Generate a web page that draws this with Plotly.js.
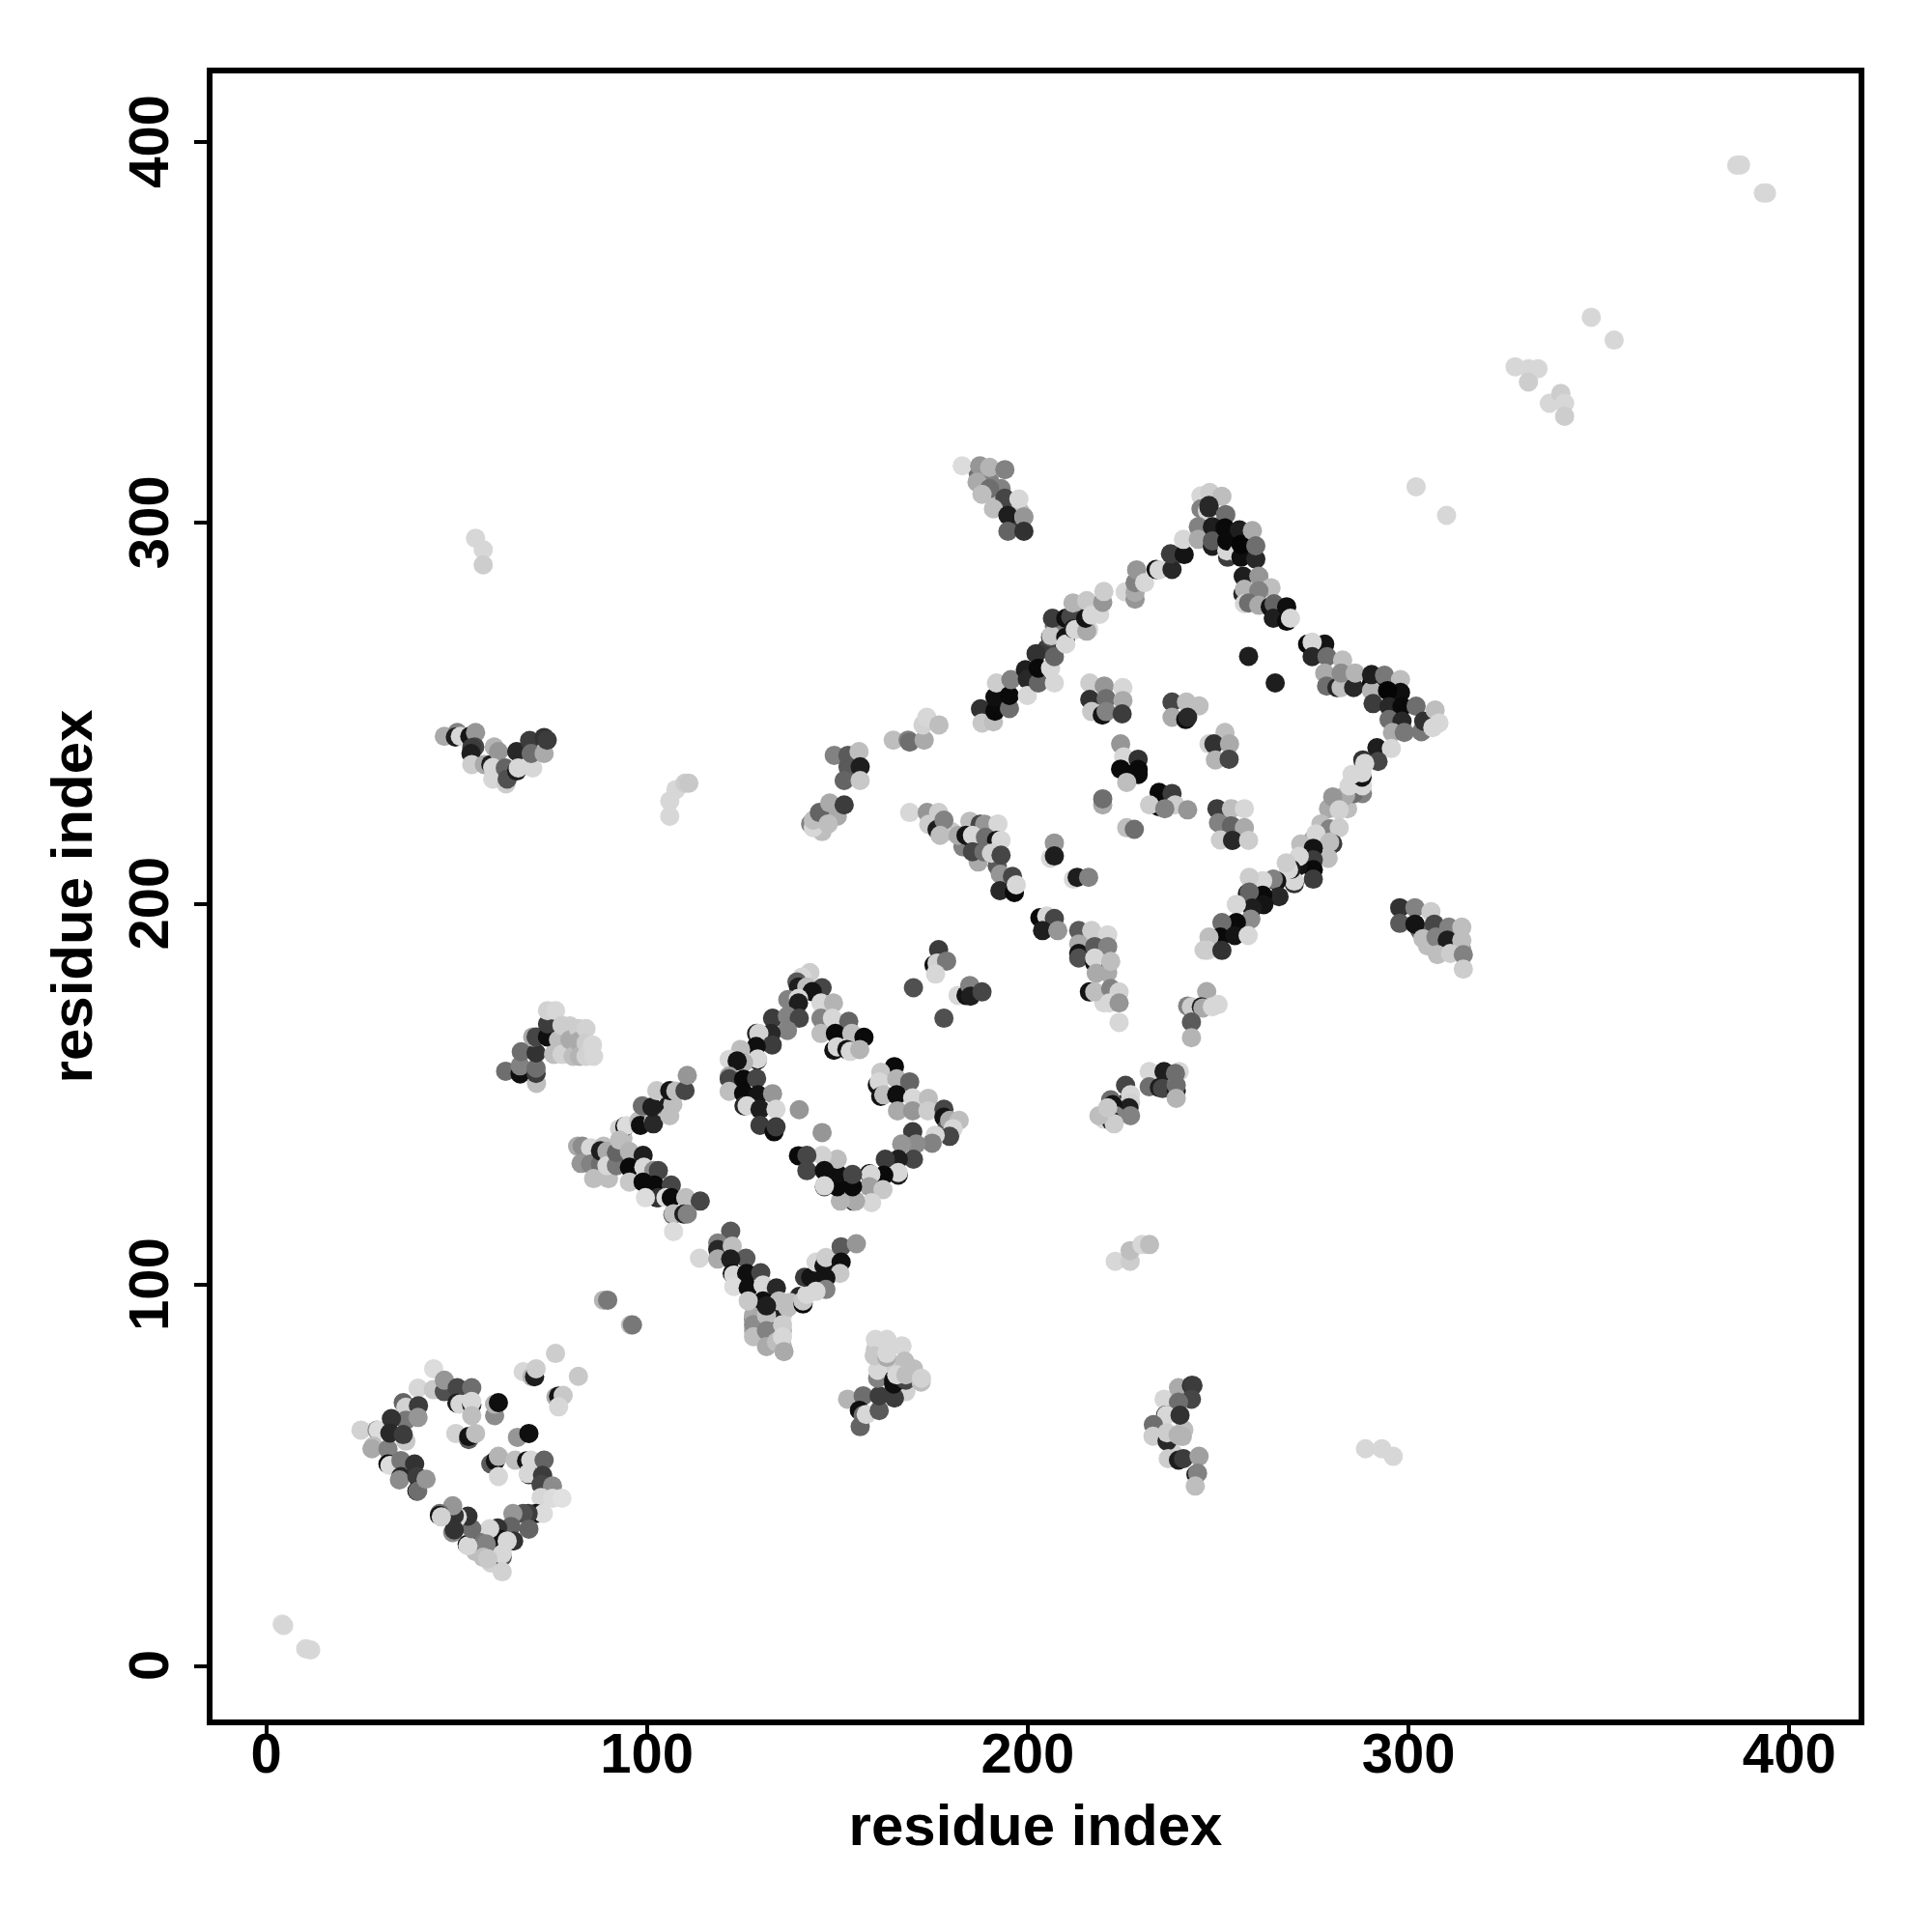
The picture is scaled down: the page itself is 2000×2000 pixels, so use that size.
<!DOCTYPE html>
<html><head><meta charset="utf-8">
<script src="https://cdn.plot.ly/plotly-3.0.1.min.js"></script>
<style>html,body{margin:0;padding:0;background:#fff}</style></head>
<body><div id="chart" style="width:2000px;height:2000px"></div>
<script>
// Each contact: [residue i, residue j, score shown as grey level]
const corner = [[4.2,11,220],[4.6,10.6,215],[10.4,4.5,215],[11.7,4.2,215]];
const far = [[386.2,393.9,215],[387.2,394,215],[393.2,386.6,215],[394,386.6,215],[348,354,215],[354,348,215],
 [328,341,215],[331.5,340.5,215],[334,340.5,215],[331.5,337,205],[337,331.4,215],[340,334,205],[341,331.4,215],[341,328,205],
 [302,309.5,215],[310,302,215],[288.7,57,215],[293,57,215],[296,55,215],[55,296,215],[57,293,215],[57,289,205]];
const underlay = [[128,91,130],[128,88,170],[131.4,86,190],[131.4,90,100],[135.6,84,190],[135.6,88,190],[135.6,92,215],[128,92,170],[134,92,30],[140,97,40],[137,94,190],
 [303,193,100],[305,189,190],[309,189,170],[312,192,110],[312,189,60],[314,188,160],[160,83,200],[165,78,205],[168,72,210],[170,78,190],[237,68,190],[240,71,110],[241,62,190],[238,56,210],
 [143,221,130],[146,219,190],[150,223,170],[154,238,110],[153,234,170],[224,145,70],[226,148,30],[223,147,205],[220,143.5,215],[209,272,190],[213,276,150],[216,272,215],[205,267,60],[207,273,120],
 [183,215,130],[186,215,50],[190,218,190],[192,210,90],[180,219,200],[187,211,170],[215,188,130],[218,191,200],[219,186,110],[221,182,170],[220,174,215],[55,30,190],[60,31,205],[59,27,210],
 [187,313,110],[190,311,130],[193,309,130],[196,304,110],[192,305,190],[196,299,60],[198,303,190],[279,225,170],[284,225,190],[275,217,150],[277,221,190],[252,223,120],[255,218,170]];
const knot = [[24.9,61.9,210],[29.1,61.9,150],[29.5,61.9,220],[28.2,57.7,190],[27.8,57,170],[32,56.9,130],[36,69.1,100],[36.7,67.9,210],[36.7,64.5,120],[32.9,64.9,50],
 [36.7,59,200],[32.5,61.1,40],[36,60.7,60],[39.9,72.9,215],[40,68.3,60],[39.9,65.2,150],[32,53,10],[32.5,52.6,220],[35.4,53.9,120],[35.4,49.7,40],[35,48.8,140],[39,53,50],[39.6,49.7,60],[39.6,45.9,10],[39.8,45.9,110],[42,49,150],
 [44,78,220],[43.9,72.5,200],[46.8,72,80],[46.8,75,150],[50.2,73,70],[54,73,110],[50.1,69,30],[50.9,68.7,215],[54,68.5,30],[54,69.4,215],[54,65.7,190],[49.8,61,210],[53.2,59.4,90],[53.2,60.2,20],[55,61,190],
 [60,65.7,140],[60,68.7,180],[61,69.1,15],[66,60,150],[69,61,15],[59,53,90],[60.2,53.8,20],[61,55,180],[61,49.7,215],[65.4,54,190],[68.4,53.8,20],[69.5,54,215],[73,54,100],[69,50.2,40],[68.8,50.5,215],[72.6,50,60],[72.2,47.6,70],[75.2,47.2,140],[72.2,44.2,215],[75.2,44,220],[77.7,44,225],
 [70.9,40,20],[72.8,40,220],[68.8,40,60],[67.5,40,80],[69,35.9,100],[64.8,40,150],[64.3,36.6,100],[65,32.8,50],[60.8,36.2,50],[61.6,33.2,20],[63.3,32.8,215],[62,28.6,90],[62,29.4,215],[62,24.7,210],[58.7,36,215],[56.1,32.4,120],[57.8,32,130],[57,28.5,190],[58.2,28.1,200],[52.8,31.9,20],[53,31.5,215],[54,36,110],[53,39.3,50],[50.2,39.1,220],[49.4,39.5,50],[49,42,150],[49,35,140],[49.4,35.7,50],[45.6,40,110],[45.5,39.5,20],[46,39.1,210],
 [76,82,205],[82,76,200],[67.5,77.2,215],[69.8,75.9,180],[70.5,75.9,30],[70.9,78,205],[76.1,70.6,170],[76.8,70.8,20],[78,71,200],[76.8,68,215]];
const armA = [[62.9,156.1,110],[66.7,155.4,15],[66.7,157.5,130],[67,161.2,110],[71,152.9,190],[70.9,155.5,60],[70.9,156.9,110],[70.9,160.9,50],[70,165.1,170],[70.9,165.1,70],[73.9,165.1,15],[73.9,168.5,60],[73.9,172,210],[76,172,215],
 [76.8,164.3,190],[75.5,160.5,190],[77.7,168.1,205],[79.8,168,205],[77.7,160.5,210],[79.8,164.3,170],[80.6,160,190],[82,167.3,205],[82,163.9,170],[82.3,160,180],[84,167.3,210],[84,163.5,205],[84,160,210],[85.7,163,215],[86,160,215]];
const armB = [[46.8,244,170],[50.2,245,130],[49.7,243.8,30],[51,244,215],[53.5,244,20],[55,245,150],[54.8,241.2,70],[54,241,60],[53.8,239.5,30],[54,236.6,205],[57.3,236.6,170],[59,236.6,30],[59.9,241.2,180],[61,240,150],[59.5,232.8,215],[59.5,235.8,215],[65.8,240,40],[62.8,235.7,100],[63,231.5,205],[63.3,232.8,80],[65.8,234.9,30],[66.2,235.7,215],[70,235.7,215],[69.2,242.9,60],[69.6,239.5,110],[73,239.5,170],[73,243.7,50],[73.8,243,60]];
const leftUpper = [[93.7,138.5,190],[92.8,141,210],[94.2,141.6,15],[94.6,141.8,220],[97.9,143.1,190],[98.3,141.9,15],[101.7,144.4,130],[101.7,143.1,190],[101.7,142.3,40],[98.8,147,110],[101.3,146.7,30],[102.6,151,200],[105.5,147,30],[106,144.4,190],[106.8,147.4,190],[106,151,20],[107.6,150.9,190],[110,151,70],[110.6,155,150]];
const left = [[81.8,136.4,170],[83,136.4,140],[85.2,136,215],[82.7,131.9,150],[85.2,131.7,130],[87.8,131.7,110],[88.6,136.4,190],[86,127.9,190],[89.9,127.9,190],[87.8,135.2,30],[89.5,135.1,170],[89.5,131.3,215],[92,131.3,120],[92,134.7,100],[92.8,138,190],[95.4,135,180],[95.4,130.9,10],[95.4,127,200],[99,134,30],[99.2,130.9,215],[101.8,130,140],[103,130,70],[99,127,10],[102,126.2,10],[106.4,126.2,70],[102.6,122.9,20],[103,122.9,50],[105,122.9,220],[99.6,122.9,220],[106.4,122.9,10],[110.2,122.9,190],[114,122,70],[106.8,118.4,110],[107,118.7,190],[109.7,118.6,30],[110.6,118.6,130],[107,114,220],[113.8,107,215],[88.6,96,180],[89.7,96,120],[95.7,89.5,190],[96.2,89.5,120]];
const upper = [[142.8,182,205],[140.7,180.8,215],[139.4,179.5,90],[139.8,178.2,30],[142,178.2,190],[146,178,70],[143.4,177,20],[137,174.9,130],[139.8,175.2,215],[139.8,174,30],[145.7,174,215],[149,174,180],[133,170,60],[136.9,170.6,130],[140,170,70],[145.7,170,130],[148.7,170,215],[153,169.2,100],[136.9,166.8,130],[132.6,166,40],[128.8,166,40],[129.4,166,210],[132.9,163,60],[128.7,162.6,15],[124.6,161.8,190],[129,159,20],[129.1,159.3,215],[125.4,158.4,180],[121.6,159.2,215],[123.7,158.8,20],[145.7,166,190],[149.5,166,10],[153.8,166,190],[157,165,10],[149.1,161.6,20],[150,162.5,215],[152.5,161.8,20],[153.4,161.3,215],[155.9,161.8,180]];
const lowerLeft = [[121.6,154.8,160],[121.6,154.1,70],[121.6,150.8,190],[125.4,154,10],[128.8,154.2,70],[125.4,150.3,10],[129.2,149.9,20],[133,150.2,150],[125.5,147,40],[126.3,147,215],[129.7,146.1,30],[133.9,146.1,215],[129.7,141.9,60],[133.4,140.2,10],[133.9,141.5,60],[140,146,150],[146,140,150]];
const upperRight = [[165,157.3,10],[161.4,155.8,200],[160.5,152.5,20],[161,153.3,215],[165.6,154.1,180],[169,153.3,100],[161.4,149.5,20],[162.2,149.9,190],[165.6,149.9,15],[169.8,149.1,215],[173.9,149,190],[165.8,145.7,170],[169.8,145.7,150],[173.8,145.7,205],[178,146.1,70],[178,144,20],[178.7,141,90],[179.5,143.2,170],[182,143.2,190],[180.4,141,215],[179.5,139,70],[175.7,139.3,215],[174.9,137.2,130],[169.8,140.2,60],[170.7,137,140],[166.9,137,150],[170,133,70],[166,133,30],[162.6,133,60],[166,128.8,30],[166,129.5,215],[162.2,128.8,10],[158.4,129.2,20],[158.8,129,215],[158.4,125.8,160],[162,125,200],[159,121.6,215],[154.2,122,40],[154.8,122,170],[150.8,122,180],[154,125.8,10],[150,125.8,10],[150,129.2,15],[154,129,70],[150,133,190],[146,134,210],[139.8,133.9,10],[142,134,70],[142,130,70],[146.6,130,15],[146.6,125.8,60],[146.6,126,215]];
const vee = [[122,114.1,90],[118.6,111,130],[118.6,109.3,40],[118.6,106.8,170],[122.4,110.2,190],[126,107,90],[122,106.8,30],[122.4,103,20],[122.8,102.6,215],[126.2,103,15],[129.9,103.2,70],[122.8,99.6,220],[126.6,99.2,15],[130.5,100,215],[134,99.2,40],[130.5,95.8,15],[126.6,95.8,200],[134.7,95.8,190],[137.6,95.4,190],[141,95,10],[141,95.8,200],[142,97.5,215],[141.4,102,60],[143,102,20],[144.4,106,215],[146.5,105,20],[147,107.2,205],[151,110,90],[155,110.8,150],[151,106,15],[150.7,103,200],[147,101.8,20],[147,98.8,130],[144.4,98.3,215],
 [128,89.6,140],[128,86.4,190],[131.4,92,190],[131.4,94.5,30],[131.4,88,130],[131.4,83.8,170],[134,85,190],[135.6,89.6,205],[135.6,86.4,215],[136,82.5,170]];
const blockC = [[152.7,70,180],[156.8,70.9,110],[155.8,67.1,15],[156.8,65.8,110],[156,62.8,100],[157.6,66,215],[161,67,90],[161,70.9,60],[165,70.3,60],[160.6,75.5,130],[160.6,77.6,215],[160,85.7,215],[163,85.7,215],[159.7,81.4,200],[163,81,170],[163,82,215],[167,84,215],[167.7,80,190],[164.8,75.1,20],[164.8,74,15],[168,75,70],[165.6,76.4,215],[168,76.4,190],[172,74.5,190],[172.1,75.5,210]];
const blockD = [[235.8,70,215],[239.6,73,170],[243,73.6,50],[243.4,73.6,60],[243,70,70],[239.6,69.2,110],[236.2,65.8,20],[236.4,65.8,215],[240,65.8,50],[233,63.3,110],[232.9,60.3,205],[236.6,59,40],[236.6,61.2,205],[239.5,60.6,180],[240.6,60.2,180],[236.9,54.4,205],[239.6,54,30],[240.9,54.4,60],[245,55,160],[244.2,50.2,30],[244.6,50.6,130],[244,47.2,190]];
const ridgeA = [[187.6,251.2,50],[188,247.5,200],[191,247.8,190],[191.4,250.6,10],[191.4,254.3,15],[191.8,258,205],[195.2,251.3,110],[195.2,254.7,10],[195.6,258.9,130],[199.4,261.5,30],[199.9,259,40],[199.9,254.7,215],[202.8,258,100],[202.2,265.7,50],[202.8,261.9,10],[206,261.9,215],[207,258,215],[207,264.9,100],[206,270,80],[206.2,270.4,200],[210,270,20],[210,268.2,215],[206.5,275,60],[210,275,15],[211.3,275.4,70],[212,272.2,30],[212.5,272,215],[215.5,271.6,170],[211.9,279,180],[215.2,275,20],[215.5,279.6,200],[216.8,275.8,215],[218.9,276,215],[219.7,279.2,150],[220,282,205],[225.6,281.9,215],[228.2,280,150],[228.2,281.8,170],[228.2,284.3,130],[228.6,287.7,150],[230.7,284.3,215],[233.7,287.8,20],[234.5,287.7,215],[237.9,287.8,40],[237.5,291.9,60],[241.1,291.7,20],[240.9,295.7,215]];
const peak = [[245.5,307.1,215],[247.8,308,205],[251,307,190],[245.5,303.7,130],[247.6,304.6,40],[247.2,303.2,215],[247.6,304,40],[252,302,215],[252,302.2,110],[244.8,299,130],[244.8,295.7,170],[248.5,299,30],[248.5,293.9,30],[248.5,295.3,90],[251.8,298.7,10],[252.5,291,60],[252.3,292.7,215],[252.3,295.3,10],[255.6,298.2,30],[255.2,292,215],[256,291,15],[256,294.4,5],[259,298,170],[259.9,290.5,40],[259.9,294,110],[256.6,286,30],[260.7,286,150],[256.5,281.4,40],[256.9,282.6,180],[263.9,283,190],[260.7,282.2,130],[256.9,278.8,215],[258,279,110],[260.7,278.4,170],[263.7,278,20],[264.7,278.8,100],[264.5,275,30],[268,278,15],[268,274.2,10],[269,275,215]];
const ridgeB = [[278,268.2,20],[273.5,268.2,10],[274.7,268.7,215],[274.7,264.9,40],[278.6,264.9,110],[282.7,264,190],[278,260.6,170],[278.5,257.2,110],[281.2,256.8,40],[282.3,256.8,190],[282.3,260.6,140],[285.6,256.8,40],[286,260.6,180],[290.3,258,10],[290.3,256,180],[290.3,260.2,30],[293.7,260,120],[297.9,258.9,190],[297.9,255.5,15],[294.5,256,5],[290.7,252.6,60],[294.9,251.8,40],[298.3,251.8,10],[294.9,248.4,110],[298.3,248,40],[295.8,245,170],[298.9,245,120],[302,251.9,110],[303.4,245.2,120],[304,248,50],[306.4,246.3,215],[307,250.9,190],[308,247.5,215],[291.7,241,30],[295.5,240.8,215],[288,237.8,50],[292,237.4,70],[288.5,236.9,215],[287.8,233.3,20],[287.8,234.4,215],[285.2,234,215]];
const ridgeC = [[287.9,229,130],[285.6,229,110],[283.5,228.5,170],[280.1,228.1,150],[281.8,224.7,210],[284.4,231,215],[287.9,231,215],[279.3,219.7,130],[281.8,220,205],[275.7,218.4,215],[280.1,215.8,60],[279.3,216.2,190],[278.9,212,190],[271.7,215.7,190],[275,214.6,20],[275,211.6,60],[275,209,10],[275,206.5,60],[271,209.9,20],[271.3,212.5,215],[270,205.3,50],[270,206,215],[269.2,209.1,30],[268.5,209,215],[267.9,210.8,205],[265.4,206,20],[264.5,206.5,130],[261.7,206.1,215],[266,201.9,40],[261.7,202.3,10],[258.2,207,205],[257.7,202.7,30],[258.2,203.1,100],[262,199.8,20],[259,198.9,30],[254.8,199.9,215],[258.6,196,140],[254.8,195.1,10],[251,195.1,110],[250.6,191.3,10],[254.4,191.7,20],[257.9,191.7,215],[247.6,191.3,190],[247.2,187.8,210],[246.3,187.9,205],[251,187.8,50]];
const rightBlock = [[297.7,199,50],[297.7,194.9,90],[301.7,199,130],[301.7,194.7,20],[305.9,198,205],[306.8,194.7,70],[303.8,190.9,190],[307.2,191.3,130],[310.6,193.9,130],[314,193.9,190],[310.2,190.5,30],[314,190.5,190],[307.6,186.7,190],[311,187,205],[314.4,186.7,130],[314.4,182.9,205]];
const top1 = [[182.8,315,220],[187.4,315,150],[190,314.6,180],[194,314,130],[186.7,310.7,170],[190,309,110],[194,306.5,70],[188,307.5,190],[191,303.7,190],[197.7,306.3,215],[194.8,302,30],[199,301.6,215],[199,301.6,150],[194.8,297.8,100],[199,297.8,50]];
const inner = [[216.3,258,205],[220.1,257.2,150],[225,256.8,215],[216.3,253.7,50],[220.6,253.9,110],[225,253.4,170],[216.8,250.5,200],[219.6,249.6,20],[220.6,250.5,130],[224.8,249.9,60],
 [237.9,253,70],[241.7,253,190],[245,252,190],[237.9,249,170],[241.5,248.4,15],[242,249,40],[251.8,245,190],[247.6,242,210],[248.9,242,50],[253,242,170],[249.3,237.8,180],[252.9,238,70],
 [224.4,242,150],[225.2,238.6,215],[229,238,50],[224.4,235.4,10],[229,235.3,10],[226,234,10],[229,234,10],[226,231.9,190],[219.7,226,170],[219.7,227.6,110],[226,220,190],[228,219.6,110],
 [234.5,229.3,10],[237.9,229,60],[234.5,225.5,10],[232,226,205],[238.7,226,205],[236,225,130],[242,224.7,150],[249.7,225,60],[253.5,225,190],[256.9,225,215],[250.1,221.3,130],[253.5,220.5,100],[256.9,220,170],[250.6,216.8,205],[253.8,216.7,40],[258,216.7,205]];
const lowerRidge = [[169,224,215],[173.6,224,150],[176.6,224,205],[174,220.9,205],[176.2,219.5,30],[178,222,130],[177,218,190],[181.7,218,170],[184.8,221.7,190],[187.5,220.9,70],[188.7,220.9,150],[192.2,221,215],[183.8,218,20],[185.5,218,215],[188.9,217.5,110],[191.8,216.7,20],[193,216.7,215],[185.5,213.7,70],[188.5,213.7,110],[190.5,213.3,210],[193,212.8,70],[192.8,207.8,150],[196,207.2,70],[192.7,203.5,40],[196.5,203,10],[197,205,215],[206,212,215],[207,216,150],[207,212.6,30],[212,206.5,215],[213,207,30],[216,207,130],
 [203.2,196.4,10],[205,196.8,215],[207,196.2,70],[203.9,193,30],[207.9,193,150],[213.4,193,90],[216.8,193,205],[221,191.9,215],[213.4,189.5,170],[213.4,187,20],[213.4,185.8,80],[217.6,188.8,90],[221,188.8,130],[217.6,184.5,20],[217.6,185.8,215],[221.8,184.9,190],[218,181.8,170],[216.2,176.9,20],[217.6,176.9,190],[221.8,177.8,130],[224,176.9,210],[221.4,174,215],[224,174,150],[224,168.9,215]];
const low2 = [[176.6,188,60],[175.4,184,15],[176.2,184.5,210],[178.7,185,120],[175.8,181.6,215],[170,178,80],[178,170,80],[181.7,176,215],[183.8,176,20],[184.8,178.6,130],[185,175.8,30],[188,176.9,70]];
const blockE = [[247,177,170],[242,173.2,130],[243,173,205],[245.6,173,30],[246,172.7,170],[248.5,173,215],[250,173.6,215],[243,169,90],[243,164.9,180],
 [231.9,156,215],[235.8,156,30],[239.8,156,215],[238.8,155.5,110],[231.9,152,110],[234.6,151.8,30],[235.4,151.6,70],[239,151,30],[239,152.4,110],[239,149,180],[225.7,152.4,70],[227,149.9,215],[227,147.8,210],[226.6,146.5,30],[227,144.4,130],[221.8,148.6,110],[222.3,147.3,20],[223.1,144.4,130],[221.9,143.1,30],[222.7,142.3,205],[218.7,144.4,190],[221,146.5,200],
 [223,106.2,215],[226.9,106.2,205],[226.9,109,190],[230,110.6,215],[232,110.6,190]];
const mid1 = [[106,227,215],[106,223,215],[107.6,230,215],[110,231.7,205],[111,231.7,200],
 [143.7,220,215],[143.7,222,190],[145.3,224,100],[147.6,221,190],[148,226.5,170],[151.8,226,60],[149.2,239,130],[152.8,239,90],[155.7,240,190],[152.8,236,90],[156,236,30],[151.8,232.4,100],[156,232.4,200],
 [164.7,243,190],[168.6,243,130],[169,242.5,110],[172.8,243,170],[172.5,247,210],[173.5,249,215],[176.7,247,190]];
const spots = [[258,265,30],[265,258,30]];

const clusters = [corner,far,underlay,knot,armA,armB,leftUpper,left,upper,lowerLeft,upperRight,vee,blockC,blockD,ridgeA,peak,ridgeC,ridgeB,rightBlock,top1,inner,lowerRidge,low2,blockE,mid1,spots];
const contacts = clusters.flat();
const tickValues = [0,100,200,300,400];
const tickLabels = ['0','100','200','300','400'];
const axisLabel = 'residue index';

const fontFamily = '"Liberation Sans", Arial, sans-serif';
function axis(standoff, angle, tickSize, labelShift, range, tail){
  return {
    title:{text:'<b>'+axisLabel+'</b>',font:{family:fontFamily,size:60,color:'#000'},standoff:standoff},
    tickmode:'array',tickvals:tickValues,ticktext:tickLabels.map(t=>'<b>'+t+tail+'</b>'),
    tickfont:{family:fontFamily,size:tickSize,color:'#000'},tickangle:angle,ticklabelstandoff:labelShift,
    ticks:'outside',ticklen:13,tickwidth:4,tickcolor:'#000',
    showgrid:false,zeroline:false,showline:true,mirror:true,linewidth:6,linecolor:'#000',
    range:range
  };
}
const layout = {
  width:2000,height:2000,autosize:false,showlegend:false,
  paper_bgcolor:'#fff',plot_bgcolor:'#fff',
  margin:{l:220,r:76,t:76,b:220,pad:0},
  xaxis:axis(24,0,58,-34,[-14.08,418.2],''),yaxis:axis(8,-90,58,4,[-14.07,418],'\u00A0')
};
Plotly.newPlot('chart',[{
  type:'scatter',mode:'markers',
  x:contacts.map(c=>c[0]),y:contacts.map(c=>c[1]),
  marker:{size:20,color:contacts.map(c=>c[2]),cmin:0,cmax:255,
    colorscale:[[0,'rgb(0,0,0)'],[1,'rgb(255,255,255)']],showscale:false,line:{width:0}},
  hoverinfo:'skip'
}],layout,{displayModeBar:false,staticPlot:true});
</script></body></html>
